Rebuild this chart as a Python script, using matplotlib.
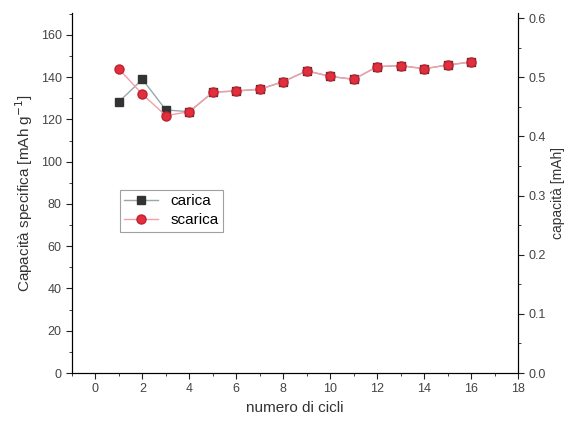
import matplotlib
matplotlib.use("Agg")
import matplotlib.pyplot as plt
from matplotlib.ticker import MultipleLocator

plt.rcParams['font.family'] = ['Liberation Sans', 'DejaVu Sans']

cicli = [1, 2, 3, 4, 5, 6, 7, 8, 9, 10, 11, 12, 13, 14, 15, 16]
carica = [128.4, 139.0, 124.5, 123.7, 132.9, 133.5, 134.3, 137.9, 143.0, 140.4, 139.0, 145.0, 145.5, 144.0, 145.8, 147.2]
scarica = [143.9, 131.9, 121.8, 123.7, 132.9, 133.5, 134.3, 137.9, 143.0, 140.4, 139.0, 145.0, 145.5, 144.0, 145.8, 147.2]

fig = plt.figure(figsize=(5.75, 4.28), dpi=100)
ax = fig.add_axes([72/575, 1 - 373/428, (518-72)/575, (373-13)/428])

ax.plot(cicli, carica, color='#9aa8a8', lw=1, marker='s', ms=5.5,
        mfc='#333333', mec='#333333', label='carica', zorder=3)
ax.plot(cicli, scarica, color='#f0a0a8', lw=1, marker='o', ms=6.5,
        mfc='#e0303e', mec='#c02030', label='scarica', zorder=4)

ax.set_xlim(-1, 18)
ax.set_ylim(0, 170.4)
ax.xaxis.set_major_locator(MultipleLocator(2))
ax.xaxis.set_minor_locator(MultipleLocator(1))
ax.yaxis.set_major_locator(MultipleLocator(20))
ax.yaxis.set_minor_locator(MultipleLocator(10))
ax.tick_params(which='both', direction='out', labelsize=9, colors='#222222', labelcolor='#444444')
ax.tick_params(which='major', length=4)
ax.tick_params(which='minor', length=2)
ax.spines['top'].set_visible(False)

ax.set_xlabel('numero di cicli', fontsize=11, color='#333333')
ax.set_ylabel('Capacità specifica [mAh g$^{-1}$]', fontsize=11, color='#333333')

ax2 = ax.twinx()
ax2.set_ylim(0, 0.6085)
ax2.yaxis.set_major_locator(MultipleLocator(0.1))
ax2.yaxis.set_minor_locator(MultipleLocator(0.05))
ax2.yaxis.set_major_formatter(matplotlib.ticker.FormatStrFormatter('%.1f'))
ax2.tick_params(which='both', direction='out', labelsize=9, colors='#222222', labelcolor='#444444')
ax2.tick_params(which='major', length=4)
ax2.tick_params(which='minor', length=2)
ax2.spines['top'].set_visible(False)
ax2.set_ylabel('capacità [mAh]', fontsize=10, color='#333333')

leg = ax.legend(loc='upper left', bbox_to_anchor=(0.09, 0.53), fontsize=11,
                frameon=True, fancybox=False, edgecolor='#888888',
                handlelength=2.2, borderpad=0.3, labelspacing=0.3)
leg.get_frame().set_linewidth(0.8)

fig.savefig('out.png', dpi=100)
